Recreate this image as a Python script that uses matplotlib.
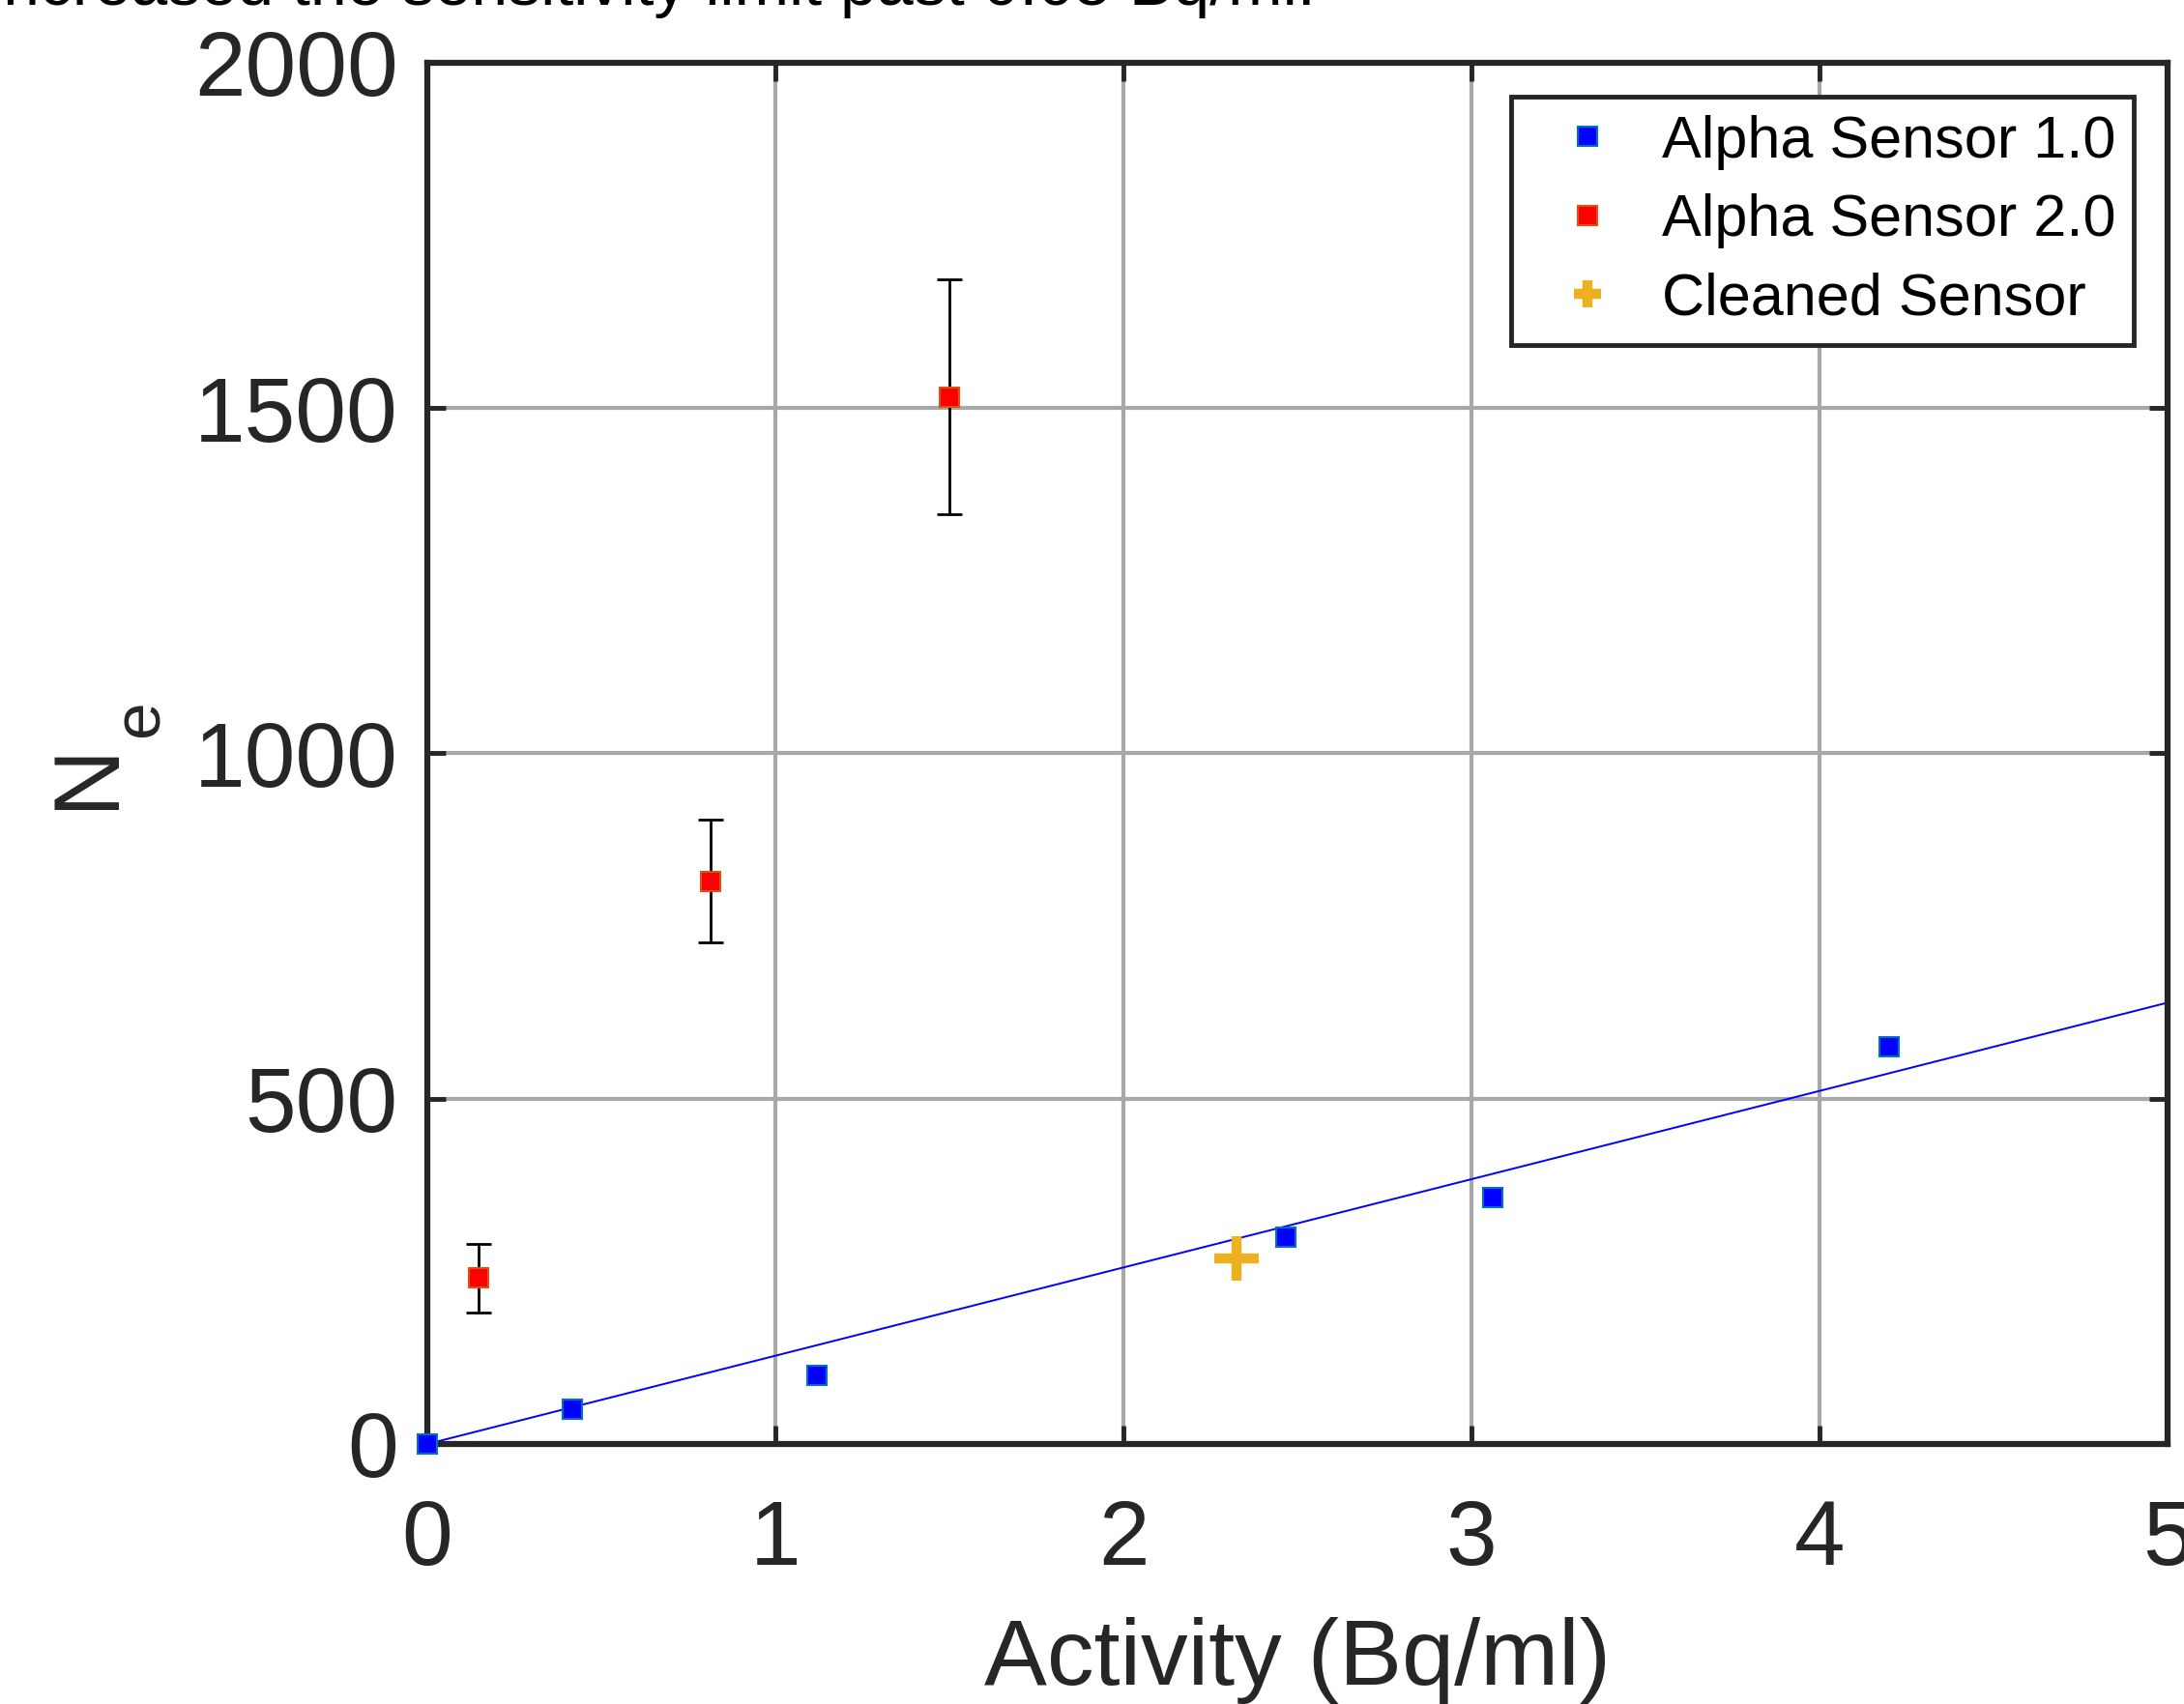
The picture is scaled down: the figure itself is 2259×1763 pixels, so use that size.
import matplotlib.pyplot as plt
import numpy as np

# data
sensor1_x = [0.0, 0.416, 1.12, 2.466, 3.06, 4.2]
sensor1_y = [0, 50, 99, 300, 357, 575]

sensor2_x = [0.148, 0.813, 1.50]
sensor2_y = [240, 815, 1516]
sensor2_err = [50, 89, 170]

cleaned_x = [2.326]
cleaned_y = [268]

fit_x = [0, 5]
fit_y = [0, 639]

x_ticks = [0, 1, 2, 3, 4, 5]
y_ticks = [0, 500, 1000, 1500, 2000]

plt.rcParams['font.family'] = ['Liberation Sans', 'DejaVu Sans']

W, H = 2259, 1763
fig = plt.figure(figsize=(W / 100, H / 100), dpi=100)
ax = fig.add_axes([0.1957, 0.1526, 0.7968, 0.8106])

# cut-off line of body text from the page above the figure
fig.text(-12 / W, 1 - 5 / H, "increased the sensitivity limit past 0.05 Bq/ml.",
         fontsize=49, va='baseline', ha='left', color='black')

ax.plot(fit_x, fit_y, color='#0000ff', lw=1.4, zorder=2)
ax.plot(sensor1_x, sensor1_y, 's', color='#0000ff', mec='#0072bd', mew=1.5,
        ms=15, label='Alpha Sensor 1.0', zorder=4, clip_on=False)
ax.errorbar(sensor2_x, sensor2_y, yerr=sensor2_err, fmt='none', ecolor='black',
            elinewidth=2.0, capsize=9.3, capthick=2.0, zorder=3)
ax.plot(sensor2_x, sensor2_y, 's', color='#ff0000', mec='#d95319', mew=1.5,
        ms=15, label='Alpha Sensor 2.0', zorder=4)
ax.plot(cleaned_x, cleaned_y, '+', color='#edb120', ms=33, mew=7.5,
        label='Cleaned Sensor', zorder=4)

ax.set_xlim(0, 5)
ax.set_ylim(0, 2000)
ax.set_xticks(x_ticks)
ax.set_yticks(y_ticks)
ax.grid(True, color='#a8a8a8', lw=3)
ax.set_axisbelow(True)

for s in ax.spines.values():
    s.set_linewidth(4.5)
    s.set_color('#262626')
ax.tick_params(direction='in', length=14, width=3.5, color='#262626',
               labelsize=68, labelcolor='#262626', top=True, right=True)
ax.tick_params(axis='x', pad=40)
ax.tick_params(axis='y', pad=22)

ax.set_xlabel('Activity (Bq/ml)', fontsize=70, color='#262626')
ax.xaxis.set_label_coords(0.5, -0.125)

# y label N with a lowered subscript e, MATLAB style
fig.text(91 / W, 1 - 802 / H, 'N', fontsize=70, rotation=90,
         ha='center', va='center', color='#262626')
fig.text(146 / W, 1 - 743 / H, 'e', fontsize=50, rotation=90,
         ha='center', va='center', color='#262626')

leg = ax.legend(loc='upper right', fontsize=44, frameon=True, fancybox=False,
                borderaxespad=0.58, handlelength=2.0, handletextpad=0.25,
                borderpad=0.3, labelspacing=0.4)
leg.get_frame().set_edgecolor('#262626')
leg.get_frame().set_linewidth(3.5)
leg.get_frame().set_alpha(1)
leg.legend_handles[2].set_markersize(20)

fig.savefig('out.png', dpi=100)
